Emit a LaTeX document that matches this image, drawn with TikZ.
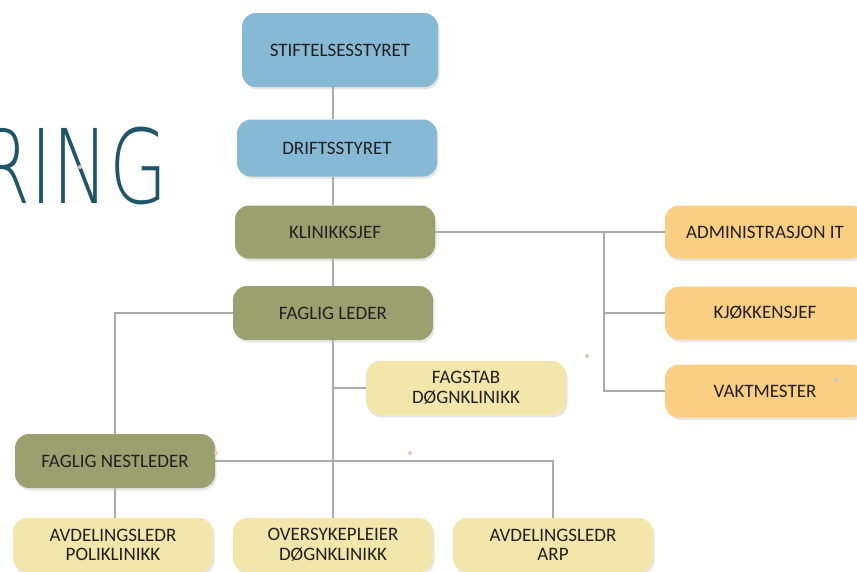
\documentclass[tikz,border=0pt]{standalone}
\usepackage{fontspec}
\setmainfont{Carlito}
\newfontfamily\ringfont{DejaVuSans-ExtraLight.ttf}
\usepackage{tikz}
\usetikzlibrary{positioning,shadows}
\definecolor{blaaboks}{RGB}{133,185,212}
\definecolor{olivboks}{RGB}{155,161,110}
\definecolor{gulboks}{RGB}{242,230,170}
\definecolor{oransjeboks}{RGB}{250,207,130}
\definecolor{linjegraa}{RGB}{170,170,170}
\definecolor{ringfarge}{RGB}{30,85,105}
\definecolor{tekstfarge}{RGB}{35,31,32}
\definecolor{prikk}{RGB}{228,200,188}

\begin{document}
\begin{tikzpicture}[x=1pt,y=-1pt,
  boks/.style={rounded corners=14pt,minimum width=200pt,minimum height=54pt,align=center,
    text=tekstfarge,font=\fontsize{19}{19.5}\selectfont,
    drop shadow={shadow xshift=1.5pt,shadow yshift=-2.5pt,opacity=0.2}},
  blaa/.style={boks,fill=blaaboks},
  oliv/.style={boks,fill=olivboks},
  gul/.style={boks,fill=gulboks},
  oransje/.style={boks,fill=oransjeboks},
  linje/.style={draw=linjegraa,line width=2pt}]
  \useasboundingbox (0,0) rectangle (857,571);
  \clip (0,0) rectangle (857,571);

  \node[anchor=base east,text=ringfarge,font=\ringfont\fontsize{103}{103}\selectfont,xscale=0.73] (ring) at (170,203) {RING};

  % styre og ledelse
  \node[blaa,minimum width=196pt,minimum height=74pt] (stift) at (340,50) {STIFTELSESSTYRET};
  \node[blaa,minimum height=57pt] (drift) at (337,148) {DRIFTSSTYRET};
  \node[oliv,minimum height=53pt] (klinikk) at (335,232) {KLINIKKSJEF};
  \node[oliv] (fleder) at (333,313) {FAGLIG LEDER};
  \node[gul] (fagstab) at (466,388) {FAGSTAB\\DØGNKLINIKK};
  \node[oliv] (nestleder) at (115,461) {FAGLIG NESTLEDER};

  \foreach \navn/\y/\tekst in {adm/232/ADMINISTRASJON IT,kjokken/313/KJØKKENSJEF,vakt/391/VAKTMESTER}
    \node[oransje,minimum height=53pt] (\navn) at (765,\y) {\tekst};

  \foreach \navn/\x/\tekst in {poli/113/{AVDELINGSLEDR\\POLIKLINIKK},overs/333/{OVERSYKEPLEIER\\DØGNKLINIKK},arp/553/{AVDELINGSLEDR\\ARP}}
    \node[gul] (\navn) at (\x,545) {\tekst};

  % linjer
  \coordinate (gren) at (604,232);
  \draw[linje] (stift.south -| overs.north) -- (drift.north -| overs.north);
  \draw[linje] (drift.south -| overs.north) -- (klinikk.north -| overs.north);
  \draw[linje] (klinikk.south -| overs.north) -- (fleder.north -| overs.north);
  \draw[linje] (fleder.south -| overs.north) -- (overs.north);
  \draw[linje] (klinikk.east) -- (klinikk.east -| adm.west);
  \draw[linje] (gren) |- (vakt.west);
  \draw[linje] (gren |- kjokken.west) -- (kjokken.west);
  \draw[linje] (fagstab.west -| overs.north) -- (fagstab.west);
  \draw[linje] (fleder.west) -| (nestleder.north);
  \draw[linje] (nestleder.south) -- (nestleder.south |- poli.north);
  \draw[linje] (nestleder.east) -| (arp.north);

  % prikker
  \foreach \x/\y in {80/167,587/356,216/453,410/453}
    \fill[prikk] (\x,\y) circle (2pt);
  \fill[black!20] (836,380) circle (2pt);
\end{tikzpicture}
\end{document}
